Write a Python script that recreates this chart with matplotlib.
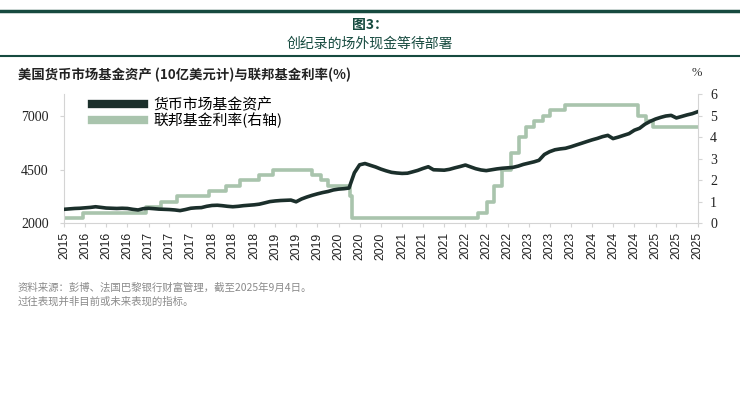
import numpy as np
import pandas as pd
import matplotlib
matplotlib.use("Agg")
import matplotlib.pyplot as plt
import matplotlib.dates as mdates
from matplotlib.lines import Line2D

plt.rcParams['font.family'] = ['Noto Sans CJK SC', 'DejaVu Sans']

# US money market fund assets, USD bn (monthly, Sep 2015 - Sep 2025)
mmf_dates = pd.date_range('2015-09-01', '2025-09-01', freq='MS')
mmf_assets = [
    2650, 2670, 2690, 2700, 2720, 2740, 2770, 2740, 2710, 2700, 2690, 2700,
    2690, 2650, 2620, 2680, 2700, 2680, 2660, 2650, 2640, 2620, 2590, 2640,
    2700, 2720, 2730, 2790, 2830, 2840, 2820, 2790, 2770, 2790, 2820, 2840,
    2860, 2890, 2950, 3010, 3040, 3060, 3070, 3080, 3000, 3130, 3220, 3300,
    3370, 3430, 3480, 3550, 3590, 3610, 3640, 4350, 4720, 4780, 4700, 4620,
    4520, 4440, 4370, 4340, 4320, 4330, 4390, 4460, 4550, 4630, 4490, 4480,
    4470, 4510, 4580, 4640, 4710, 4620, 4540, 4480, 4450, 4490, 4530, 4560,
    4580, 4600, 4660, 4740, 4800, 4860, 4930, 5200, 5330, 5420, 5460, 5490,
    5560, 5640, 5720, 5800, 5880, 5950, 6030, 6090, 5940, 6010, 6090, 6170,
    6330, 6420, 6610, 6740, 6850, 6930, 6990, 7020, 6900, 6970, 7040, 7100,
    7190,
]

# Fed funds rate (upper bound), %
fed_dates = pd.to_datetime([
    '2015-09-01', '2015-12-17', '2016-12-15', '2017-03-16', '2017-06-15',
    '2017-12-14', '2018-03-22', '2018-06-14', '2018-09-27', '2018-12-20',
    '2019-08-01', '2019-09-19', '2019-10-31', '2020-03-04', '2020-03-16',
    '2022-03-17', '2022-05-05', '2022-06-16', '2022-07-28', '2022-09-22',
    '2022-11-03', '2022-12-15', '2023-02-02', '2023-03-23', '2023-05-04',
    '2023-07-27', '2024-09-19', '2024-11-08', '2024-12-19', '2025-09-01',
])
fed_rate = [
    0.25, 0.50, 0.75, 1.00, 1.25,
    1.50, 1.75, 2.00, 2.25, 2.50,
    2.25, 2.00, 1.75, 1.25, 0.25,
    0.50, 1.00, 1.75, 2.50, 3.25,
    4.00, 4.50, 4.75, 5.00, 5.25,
    5.50, 5.00, 4.75, 4.50, 4.50,
]

left_ticks = [2000, 4500, 7000]
right_ticks = [0, 1, 2, 3, 4, 5, 6]
x_ticks = pd.date_range('2015-09-01', '2025-09-01', freq='4MS')

teal = '#164a3f'
dark = '#1b2f2b'
green = '#a9c4ad'
axis_grey = '#d4d4d4'

fig = plt.figure(figsize=(7.4, 3.98), dpi=100)

# header
fig.add_artist(Line2D([0, 1], [1 - 11 / 398] * 2, color=teal, lw=2.5))
fig.add_artist(Line2D([0, 1], [1 - 56 / 398] * 2, color=teal, lw=1.5))
fig.text(0.5, 1 - 25 / 398, '图3：', ha='center', va='center', fontsize=10,
         fontweight='bold', color=teal)
fig.text(0.5, 1 - 44 / 398, '创纪录的场外现金等待部署', ha='center', va='center',
         fontsize=10, color=teal)
fig.text(18 / 740, 1 - 75 / 398, '美国货币市场基金资产 (10亿美元计)与联邦基金利率(%)',
         ha='left', va='center', fontsize=9.6, fontweight='bold', color='#222222')
fig.text(697 / 740, 1 - 73 / 398, '%', ha='center', va='center', fontsize=9,
         color='#333333', family=['Liberation Serif'])

ax = fig.add_axes([64 / 740, 1 - 223.3 / 398, 633.7 / 740, 129 / 398])
ax2 = ax.twinx()

ax.plot(mmf_dates, mmf_assets, color=dark, lw=2.6, solid_joinstyle='round',
        zorder=3, label='货币市场基金资产')
ax2.step(fed_dates, fed_rate, where='post', color=green, lw=2.6,
         label='联邦基金利率(右轴)')
ax.set_zorder(ax2.get_zorder() + 1)
ax.patch.set_visible(False)

ax.set_xlim(mmf_dates[0], mmf_dates[-1])
ax.set_ylim(2000, 8000)
ax2.set_ylim(0, 6)
ax.set_yticks(left_ticks)
ax2.set_yticks(right_ticks)
ax.set_xticks(x_ticks)
ax.xaxis.set_major_formatter(mdates.DateFormatter('%Y'))

for a in (ax, ax2):
    a.spines['top'].set_visible(False)
    for s in ('left', 'right', 'bottom'):
        a.spines[s].set_color(axis_grey)
    a.tick_params(color=axis_grey, length=3)
ax.spines['right'].set_visible(False)
ax2.spines['left'].set_visible(False)
ax2.spines['bottom'].set_visible(False)

for lbl in ax.get_yticklabels() + ax2.get_yticklabels():
    lbl.set_family(['Liberation Serif'])
    lbl.set_fontsize(10)
    lbl.set_color('#222222')
for lbl in ax.get_xticklabels():
    lbl.set_family(['Liberation Sans'])
    lbl.set_fontsize(8.7)
    lbl.set_rotation(90)
    lbl.set_color('#222222')
ax.tick_params(axis='y', pad=8)
ax2.tick_params(axis='y', pad=6)

handles = [Line2D([], [], color=dark, lw=6), Line2D([], [], color=green, lw=6)]
labels = ['货币市场基金资产', '联邦基金利率(右轴)']
ax.legend(handles, labels, loc='upper left', bbox_to_anchor=(0.035, 1.02),
          frameon=False, fontsize=10.7, handlelength=3.5, handletextpad=0.6,
          labelspacing=0.0, borderaxespad=0)

fig.text(18 / 740, 1 - 288 / 398, '资料来源：彭博、法国巴黎银行财富管理，截至2025年9月4日。',
         ha='left', va='center', fontsize=7.5, color='#8a8a8a', style='italic')
fig.text(18 / 740, 1 - 302 / 398, '过往表现并非目前或未来表现的指标。',
         ha='left', va='center', fontsize=7.5, color='#8a8a8a', style='italic')

fig.savefig('out.png', dpi=100)
